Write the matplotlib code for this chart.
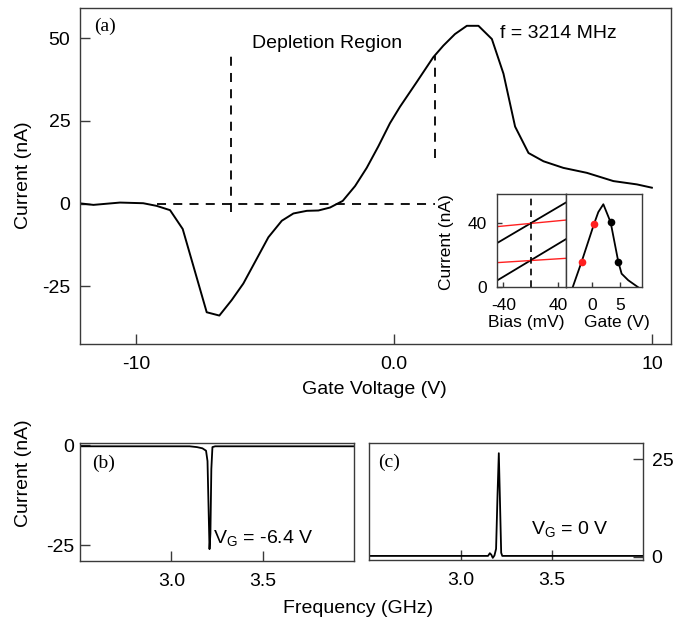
import matplotlib
matplotlib.use("Agg")
import matplotlib.pyplot as plt

plt.rcParams['font.family'] = ['Liberation Sans', 'DejaVu Sans']

# ---- main panel (a) data ----
gate_v = [-12.1, -11.65, -10.62, -9.72, -9.2, -8.68, -8.19, -7.71, -7.26, -6.77,
          -6.29, -5.84, -5.32, -4.87, -4.35, -3.9, -3.38, -2.93, -2.48, -1.99,
          -1.51, -1.06, -0.61, -0.16, 0.23, 0.88, 1.52, 1.91, 2.36, 2.82,
          3.27, 3.79, 4.24, 4.69, 5.21, 5.79, 6.56, 7.47, 8.5, 9.41, 9.99]
current_a = [0.0, -0.4, 0.3, 0.1, -0.7, -2.0, -7.7, -20.7, -32.9, -33.9,
             -29.2, -24.2, -16.7, -10.2, -5.2, -3.0, -2.2, -2.1, -1.2, 0.8,
             5.3, 10.8, 17.3, 24.3, 29.3, 36.8, 44.3, 47.8, 51.3, 53.8,
             53.8, 49.8, 39.3, 23.3, 15.3, 12.8, 10.8, 9.3, 6.8, 5.8, 4.8]
main_xticks = [-10, 0, 10]
main_xticklabels = ['-10', '0.0', '10']
main_yticks = [-25, 0, 25, 50]
main_yticklabels = ['-25', '0', '25', '50']
hdash_x = [-9.2, 1.6]
vdash1_x, vdash1_y = [-6.33, -6.33], [-2.7, 45.3]
vdash2_x, vdash2_y = [1.59, 1.59], [13.9, 44.8]

# ---- inset: bias sweeps ----
bias = [-49.6, 50.8]
black_hi = [27.5, 52.9]
black_lo = [4.1, 30.0]
red_hi = [37.9, 42.0]
red_lo = [15.4, 18.1]

# ---- inset: gate sweep ----
gate_in = [-3.54, -1.92, 0.31, 1.09, 2.0, 3.32, 4.7, 5.3, 6.5, 8.3]
cur_in = [0.0, 16.0, 39.5, 47.0, 51.9, 40.6, 16.0, 8.5, 4.4, 0.0]
red_pts_g, red_pts_i = [-1.92, 0.31], [16.0, 39.5]
blk_pts_g, blk_pts_i = [3.32, 4.7], [40.6, 16.0]

# ---- panel (b) ----
freq_b = [2.5, 3.10, 3.14, 3.17, 3.19, 3.198, 3.204, 3.209, 3.214, 3.219, 3.225, 3.24, 4.0]
cur_b = [-0.3, -0.3, -0.5, -0.8, -1.4, -4.0, -16.0, -26.0, -22.0, -6.0, -0.5, -0.3, -0.3]

# ---- panel (c) ----
freq_c = [2.5, 3.10, 3.150, 3.160, 3.168, 3.176, 3.185, 3.194, 3.202, 3.209, 3.215, 3.222, 3.228, 3.24, 4.0]
cur_c = [0.2, 0.2, 0.2, 0.9, 0.5, -0.3, 0.3, 2.0, 16.0, 26.6, 15.0, 1.0, 0.2, 0.2, 0.2]

W, H = 686, 620
fig = plt.figure(figsize=(W / 100, H / 100), dpi=100)

def box(x0, y0, x1, y1):
    return [x0 / W, 1 - y1 / H, (x1 - x0) / W, (y1 - y0) / H]

def ftext(x, y, s, **kw):
    return fig.text(x / W, 1 - y / H, s, **kw)

spine_col = '#3a3a3a'
FS = 14
FI = 12.5
serif = ['Liberation Serif', 'DejaVu Serif']

def style(ax, fs=FS, tl=7, pad=7):
    for s in ax.spines.values():
        s.set_color(spine_col)
        s.set_linewidth(1.0)
    ax.tick_params(direction='in', length=tl, width=1.0, color=spine_col,
                   labelsize=fs, pad=pad)

# main axes
ax = fig.add_axes(box(80, 8.3, 670.7, 344.3))
ax.plot(gate_v, current_a, color='black', lw=1.4)
ax.plot(hdash_x, [0, 0], color='black', lw=1.3, ls=(0, (5, 4)))
ax.plot(vdash1_x, vdash1_y, color='black', lw=1.3, ls=(0, (5, 4)))
ax.plot(vdash2_x, vdash2_y, color='black', lw=1.3, ls=(0, (5, 4)))
ax.set_xlim(-12.17, 10.72)
ax.set_ylim(-42.6, 59.1)
ax.set_xticks(main_xticks)
ax.set_xticklabels(main_xticklabels)
ax.set_yticks(main_yticks)
ax.set_yticklabels(main_yticklabels)
style(ax)
ax.tick_params(axis='x', pad=8.5)
ftext(94, 30.7, '(a)', family=serif, fontsize=14, va='baseline', ha='left')
ftext(251.7, 47.7, 'Depletion Region', fontsize=FS, ha='left', va='baseline')
ftext(500, 38.3, 'f = 3214 MHz', fontsize=FS, ha='left', va='baseline')
ftext(24, 175, 'Current (nA)', rotation=90, fontsize=FS, ha='center', va='center')
ftext(374, 394, 'Gate Voltage (V)', fontsize=FS, ha='center', va='baseline')

# inset 1: bias
ai = fig.add_axes(box(496.7, 194, 565.7, 287.3))
ai.plot(bias, black_hi, color='black', lw=1.3)
ai.plot(bias, black_lo, color='black', lw=1.3)
ai.plot(bias, red_hi, color='#ff2020', lw=1.0)
ai.plot(bias, red_lo, color='#ff2020', lw=1.0)
ai.axvline(0.5, color='black', lw=1.2, ls=(0, (4, 3)))
ai.set_xlim(-49.6, 50.8)
ai.set_ylim(0, 58.3)
ai.set_xticks([-40, 40])
ai.set_xticklabels(['-40', '40'])
ai.set_yticks([0, 40])
ai.set_yticklabels(['0', '40'])
style(ai, fs=FI, tl=3.5, pad=7)
ai.tick_params(axis='x', pad=7.5)

# inset 2: gate
ag = fig.add_axes(box(565.7, 194, 641.7, 287.3))
ag.plot(gate_in, cur_in, color='black', lw=1.3)
ag.plot(red_pts_g, red_pts_i, 'o', color='#ff2020', ms=5.5, mec='none')
ag.plot(blk_pts_g, blk_pts_i, 'o', color='black', ms=5.5, mec='none')
ag.set_xlim(-4.8, 8.93)
ag.set_ylim(0, 58.3)
ag.set_xticks([0, 5])
ag.set_xticklabels(['0', '5'])
ag.set_yticks([])
style(ag, fs=FI, tl=3.5, pad=7.5)
ftext(526, 326.7, 'Bias (mV)', fontsize=FI, ha='center', va='baseline')
ftext(616.7, 326.7, 'Gate (V)', fontsize=FI, ha='center', va='baseline')
ftext(446.5, 241.7, 'Current (nA)', rotation=90, fontsize=FI, ha='center', va='center')

# panel (b)
ab = fig.add_axes(box(80, 442.7, 354, 560.7))
ab.plot(freq_b, cur_b, color='black', lw=1.3)
ab.set_xlim(2.5, 4.0)
ab.set_ylim(-28.9, 0.6)
ab.set_xticks([3.0, 3.5])
ab.set_xticklabels(['3.0', '3.5'])
ab.set_yticks([-25, 0])
ab.set_yticklabels(['-25', '0'])
style(ab)
ab.tick_params(axis='x', pad=8.5)
ab.tick_params(axis='y', pad=4)
ftext(91.7, 468, '(b)', family=serif, fontsize=14, va='baseline', ha='left')
ftext(213.3, 544, 'V$_\\mathregular{G}$ = -6.4 V', fontsize=FS, ha='left', va='baseline')
ftext(24, 473, 'Current (nA)', rotation=90, fontsize=FS, ha='center', va='center')

# panel (c)
ac = fig.add_axes(box(369.3, 442.7, 643.3, 560))
ac.plot(freq_c, cur_c, color='black', lw=1.3)
ac.set_xlim(2.5, 4.0)
ac.set_ylim(-0.85, 29.3)
ac.set_xticks([3.0, 3.5])
ac.set_xticklabels(['3.0', '3.5'])
ac.yaxis.tick_right()
ac.set_yticks([0, 25])
ac.set_yticklabels(['0', '25'])
style(ac)
ac.tick_params(axis='x', pad=8.5)
ac.tick_params(axis='y', pad=6)
ftext(378.3, 467, '(c)', family=serif, fontsize=14, va='baseline', ha='left')
ftext(530.7, 535, 'V$_\\mathregular{G}$ = 0 V', fontsize=FS, ha='left', va='baseline')
ftext(283.3, 613, 'Frequency (GHz)', fontsize=FS, ha='left', va='baseline')

fig.savefig('out.png', dpi=100)
